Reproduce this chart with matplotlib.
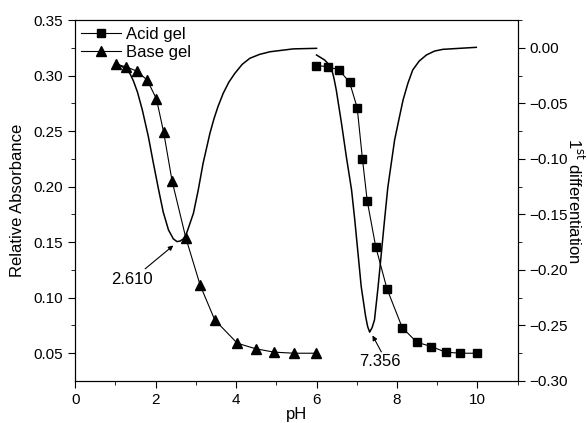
import numpy as np
import matplotlib.pyplot as plt

plt.rcParams['font.family'] = ['Liberation Sans', 'DejaVu Sans']

# absorbance data
base_ph = [1.01, 1.26, 1.53, 1.79, 2.02, 2.20, 2.41, 2.75, 3.11, 3.47, 4.03, 4.49, 4.94, 5.44, 5.99]
base_abs = [0.310, 0.308, 0.304, 0.296, 0.279, 0.249, 0.205, 0.154, 0.111, 0.080, 0.059, 0.054, 0.051, 0.050, 0.050]

acid_ph = [5.98, 6.29, 6.56, 6.82, 7.01, 7.14, 7.26, 7.47, 7.75, 8.13, 8.49, 8.85, 9.21, 9.56, 9.99]
acid_abs = [0.309, 0.308, 0.305, 0.294, 0.271, 0.225, 0.187, 0.146, 0.108, 0.073, 0.060, 0.056, 0.051, 0.050, 0.050]

# first derivative curves (right axis)
d1_ph = [1.03, 1.24, 1.36, 1.45, 1.55, 1.67, 1.82, 1.94, 2.07, 2.19, 2.32, 2.44, 2.53, 2.61, 2.69,
         2.77, 2.94, 3.06, 3.18, 3.35, 3.45, 3.55, 3.68, 3.82, 3.97, 4.15, 4.34, 4.58, 4.84, 5.42, 6.00]
d1_val = [-0.014, -0.0185, -0.023, -0.030, -0.040, -0.056, -0.080, -0.103, -0.127, -0.148, -0.164, -0.172,
          -0.1745, -0.174, -0.172, -0.167, -0.149, -0.128, -0.104, -0.077, -0.064, -0.053, -0.041, -0.031,
          -0.023, -0.015, -0.0095, -0.006, -0.0036, -0.001, -0.0005]

d2_ph = [6.00, 6.20, 6.28, 6.37, 6.43, 6.49, 6.62, 6.74, 6.87, 6.95, 7.03, 7.11, 7.22, 7.27, 7.32,
         7.38, 7.44, 7.53, 7.61, 7.69, 7.77, 7.94, 8.05, 8.15, 8.27, 8.39, 8.55, 8.73, 8.93, 9.14, 9.97]
d2_val = [-0.0065, -0.011, -0.014, -0.0185, -0.027, -0.038, -0.068, -0.098, -0.128, -0.155, -0.185, -0.215,
          -0.242, -0.251, -0.256, -0.252, -0.245, -0.215, -0.185, -0.155, -0.126, -0.083, -0.064, -0.047,
          -0.032, -0.020, -0.012, -0.0065, -0.003, -0.0014, 0.0004]

fig = plt.figure(figsize=(5.87, 4.23), dpi=100)
ax = fig.add_axes([0.128, 0.0993, 0.754, 0.8534])
ax2 = ax.twinx()

ax.plot(acid_ph, acid_abs, '-s', color='black', lw=0.8, ms=5.5, label='Acid gel')
ax.plot(base_ph, base_abs, '-^', color='black', lw=0.8, ms=6.5, label='Base gel')

ax2.plot(d1_ph, d1_val, '-', color='black', lw=1.1)
ax2.plot(d2_ph, d2_val, '-', color='black', lw=1.1)

ax.set_xlim(0, 11)
ax.set_ylim(0.025, 0.35)
ax2.set_ylim(-0.30, 0.025)

ax.set_xticks([0, 2, 4, 6, 8, 10])
ax.set_xticks([1, 3, 5, 7, 9, 11], minor=True)
ax.set_yticks(np.arange(0.05, 0.351, 0.05))
ax.set_yticks(np.arange(0.075, 0.35, 0.05), minor=True)
ax2.set_yticks(np.arange(-0.30, 0.001, 0.05))
ax2.set_yticks(np.arange(-0.275, 0.025, 0.05), minor=True)

for a in (ax, ax2):
    a.tick_params(which='both', direction='out', labelsize=11)
    a.tick_params(which='major', length=5)
    a.tick_params(which='minor', length=3)

ax.set_xlabel('pH', fontsize=12, labelpad=0)
ax.set_ylabel('Relative Absorbance', fontsize=12, labelpad=6)
ax2.set_ylabel('1$^{\\rm st}$ differentiation', fontsize=12, rotation=270, labelpad=12)

# annotations for the minima
arrow = dict(arrowstyle='-|>', color='black', lw=0.8, shrinkA=0, shrinkB=0, mutation_scale=7)
ax.annotate('', xy=(2.44, 0.147), xytext=(1.74, 0.126), arrowprops=arrow)
ax.text(1.41, 0.116, '2.610', fontsize=12, ha='center', va='center')
ax.annotate('', xy=(7.39, 0.066), xytext=(7.61, 0.0512), arrowprops=arrow)
ax.text(7.57, 0.043, '7.356', fontsize=12, ha='center', va='center')

ax.legend(loc='upper left', bbox_to_anchor=(-0.005, 1.005), frameon=False, fontsize=12,
          handlelength=2.4, handletextpad=0.3, borderaxespad=0.1, labelspacing=0.2)

fig.savefig('out.png', dpi=100)
